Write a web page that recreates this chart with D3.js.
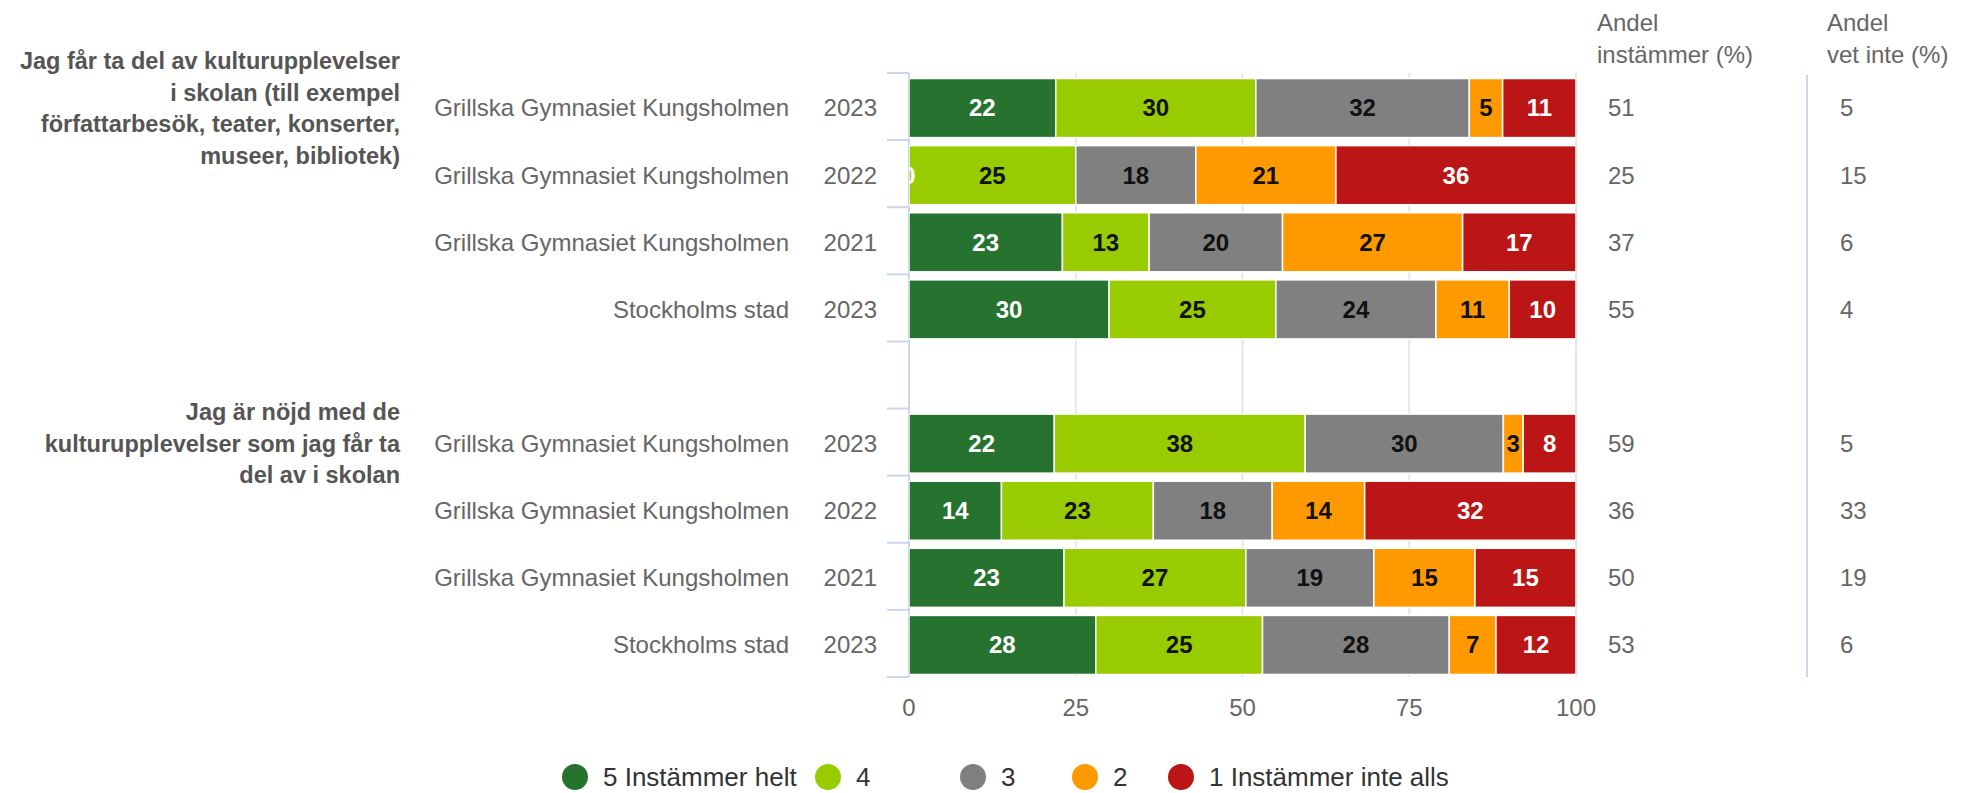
<!DOCTYPE html>
<html>
<head>
<meta charset="utf-8">
<script src="https://cdn.jsdelivr.net/npm/d3@7"></script>
<style>
  body { margin: 0; background: #fff; }
  svg text { font-family: Arial, "Liberation Sans", sans-serif; }
</style>
</head>
<body>
<div id="chart"></div>
<script>
// data
var groupLabels = [
    ["Jag får ta del av kulturupplevelser", "i skolan (till exempel", "författarbesök, teater, konserter,", "museer, bibliotek)"],
    ["Jag är nöjd med de", "kulturupplevelser som jag får ta", "del av i skolan"]
];
var rowNames = ["Grillska Gymnasiet Kungsholmen", "Grillska Gymnasiet Kungsholmen", "Grillska Gymnasiet Kungsholmen", "Stockholms stad",
    "Grillska Gymnasiet Kungsholmen", "Grillska Gymnasiet Kungsholmen", "Grillska Gymnasiet Kungsholmen", "Stockholms stad"];
var rowYears = ["2023", "2022", "2021", "2023", "2023", "2022", "2021", "2023"];
var rowGroup = [0, 0, 0, 0, 1, 1, 1, 1];

var seriesNames = ["5 Instämmer helt", "4", "3", "2", "1 Instämmer inte alls"];
var s5 = [22, 0, 23, 30, 22, 14, 23, 28];
var s4 = [30, 25, 13, 25, 38, 23, 27, 25];
var s3 = [32, 18, 20, 24, 30, 18, 19, 28];
var s2 = [5, 21, 27, 11, 3, 14, 15, 7];
var s1 = [11, 36, 17, 10, 8, 32, 15, 12];
var andelInstammer = [51, 25, 37, 55, 59, 36, 50, 53];
var andelVetInte = [5, 15, 6, 4, 5, 33, 19, 6];
var xTicks = [0, 25, 50, 75, 100];

var colors = ["#267330", "#99cc00", "#808080", "#ff9900", "#bb1515"];
var labelColors = ["#ffffff", "#111111", "#111111", "#111111", "#ffffff"];

var width = 1972, height = 793;
var svg = d3.select("#chart").append("svg")
    .attr("width", width)
    .attr("height", height);

// build rows
var rows = rowNames.map(function(n, i) {
    return { i: i, name: n, year: rowYears[i], group: rowGroup[i],
        v0: s5[i], v1: s4[i], v2: s3[i], v3: s2[i], v4: s1[i] };
});
// slots: 4 rows, an empty slot, 4 rows
var slots = ["r0", "r1", "r2", "r3", "gap", "r4", "r5", "r6", "r7"];
var slotOf = function(i) { return "r" + i; };

var x = d3.scaleLinear().domain([0, 100]).range([909, 1576]);
var y = d3.scaleBand().domain(slots).range([73, 677]);
var step = y.bandwidth();
var barH = step * 0.88;
var barOff = (step - barH) / 2 + 1.5;
var rowMid = function(i) { return y(slotOf(i)) + barOff + barH / 2; };

// gridlines
svg.append("g").selectAll("line")
    .data(xTicks.filter(function(t) { return t > 0; }))
    .enter().append("line")
    .attr("x1", function(d) { return x(d); })
    .attr("x2", function(d) { return x(d); })
    .attr("y1", 73).attr("y2", 677)
    .attr("stroke", "#e6e6e6")
    .attr("stroke-width", 2);

// category axis line and ticks
svg.append("line")
    .attr("x1", x(0)).attr("x2", x(0))
    .attr("y1", 73).attr("y2", 677)
    .attr("stroke", "#ccd6eb").attr("stroke-width", 2);
var bounds = slots.map(function(s) { return y(s); }).concat([677]);
svg.append("g").selectAll("line")
    .data(bounds)
    .enter().append("line")
    .attr("x1", x(0) - 22).attr("x2", x(0))
    .attr("y1", function(d) { return d; })
    .attr("y2", function(d) { return d; })
    .attr("stroke", "#ccd6eb").attr("stroke-width", 2);

// stacked bars (percent)
var stack = d3.stack().keys(["v0", "v1", "v2", "v3", "v4"]).offset(d3.stackOffsetExpand);
var stacked = stack(rows);

svg.append("clipPath").attr("id", "plotclip")
    .append("rect").attr("x", x(0)).attr("y", 60).attr("width", x(100) - x(0)).attr("height", 640);

var plot = svg.append("g").attr("clip-path", "url(#plotclip)");

plot.selectAll("g.layer")
    .data(stacked)
    .enter().append("g").attr("class", "layer")
    .attr("fill", function(d) { return colors[d.index]; })
    .selectAll("rect")
    .data(function(d) { return d; })
    .enter().append("rect")
    .attr("x", function(d) { return x(d[0] * 100); })
    .attr("width", function(d) { return Math.max(0, x(d[1] * 100) - x(d[0] * 100)); })
    .attr("y", function(d) { return y(slotOf(d.data.i)) + barOff; })
    .attr("height", barH)
    .attr("stroke", "#ffffff")
    .attr("stroke-width", 1.5);

// labels after all bars so the zero label stays visible
plot.selectAll("g.labels")
    .data(stacked)
    .enter().append("g").attr("class", "labels")
    .selectAll("text")
    .data(function(d) { return d.map(function(p) { p.k = d.index; return p; }); })
    .enter().append("text")
    .attr("x", function(d) { return x((d[0] + d[1]) / 2 * 100); })
    .attr("y", function(d) { return rowMid(d.data.i); })
    .attr("dy", "0.35em")
    .attr("text-anchor", "middle")
    .attr("font-size", 24)
    .attr("font-weight", "bold")
    .attr("fill", function(d) { return labelColors[d.k]; })
    .text(function(d) { return d.data["v" + d.k]; });

// row labels
svg.append("g").selectAll("text")
    .data(rows).enter().append("text")
    .attr("x", 789)
    .attr("y", function(d) { return rowMid(d.i); })
    .attr("dy", "0.35em")
    .attr("text-anchor", "end")
    .attr("font-size", 24)
    .attr("fill", "#666666")
    .text(function(d) { return d.name; });

svg.append("g").selectAll("text")
    .data(rows).enter().append("text")
    .attr("x", 877)
    .attr("y", function(d) { return rowMid(d.i); })
    .attr("dy", "0.35em")
    .attr("text-anchor", "end")
    .attr("font-size", 24)
    .attr("fill", "#666666")
    .text(function(d) { return d.year; });

// group labels, centred on the first row of each group
groupLabels.forEach(function(lines, g) {
    var first = rowGroup.indexOf(g);
    var cy = rowMid(first);
    var lh = 31.5;
    svg.append("g").selectAll("text")
        .data(lines).enter().append("text")
        .attr("x", 400)
        .attr("y", function(d, k) { return cy + (k - (lines.length - 1) / 2) * lh; })
        .attr("dy", "0.35em")
        .attr("text-anchor", "end")
        .attr("font-size", 23.5)
        .attr("font-weight", "bold")
        .attr("fill", "#555555")
        .text(function(d) { return d; });
});

// x axis labels
svg.append("g").selectAll("text")
    .data(xTicks).enter().append("text")
    .attr("x", function(d) { return x(d); })
    .attr("y", 708)
    .attr("dy", "0.35em")
    .attr("text-anchor", "middle")
    .attr("font-size", 24)
    .attr("fill", "#666666")
    .text(function(d) { return d; });

// side columns
function sideColumn(header, values, hx, vx) {
    svg.append("g").selectAll("text")
        .data(header).enter().append("text")
        .attr("x", hx)
        .attr("y", function(d, k) { return 23 + k * 32; })
        .attr("dy", "0.35em")
        .attr("font-size", 24)
        .attr("fill", "#666666")
        .text(function(d) { return d; });
    svg.append("g").selectAll("text")
        .data(values).enter().append("text")
        .attr("x", vx)
        .attr("y", function(d, i) { return rowMid(i); })
        .attr("dy", "0.35em")
        .attr("font-size", 24)
        .attr("fill", "#666666")
        .text(function(d) { return d; });
}
sideColumn(["Andel", "instämmer (%)"], andelInstammer, 1597, 1608);
sideColumn(["Andel", "vet inte (%)"], andelVetInte, 1827, 1840);

svg.append("line")
    .attr("x1", 1807).attr("x2", 1807)
    .attr("y1", 75).attr("y2", 677)
    .attr("stroke", "#ccd6eb").attr("stroke-width", 2);

// legend
var legendX = [575, 828, 973, 1085, 1181];
var legend = svg.append("g").selectAll("g")
    .data(seriesNames).enter().append("g")
    .attr("transform", function(d, i) { return "translate(" + legendX[i] + ",777)"; });
legend.append("circle")
    .attr("r", 13)
    .attr("fill", function(d, i) { return colors[i]; });
legend.append("text")
    .attr("x", 28)
    .attr("dy", "0.35em")
    .attr("font-size", 26)
    .attr("fill", "#333333")
    .text(function(d) { return d; });
</script>
</body>
</html>
